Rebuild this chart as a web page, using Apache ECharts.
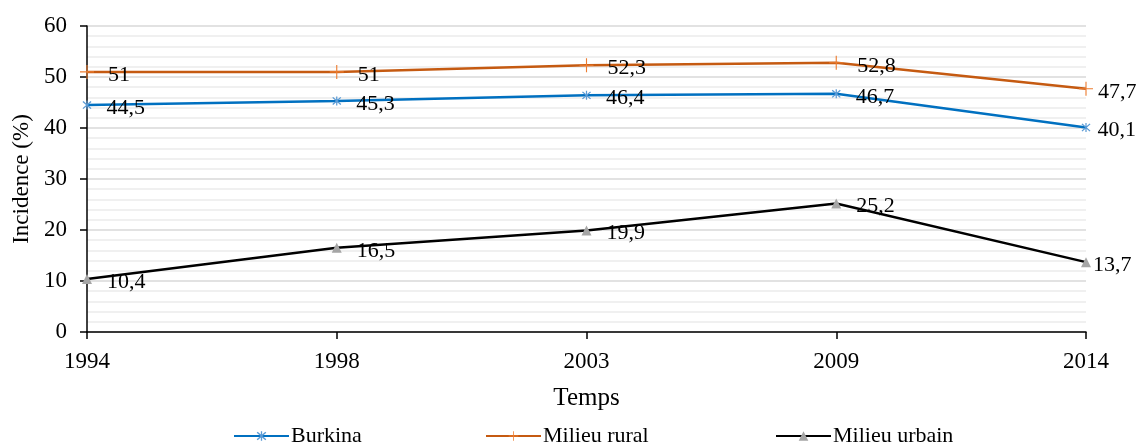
<!DOCTYPE html>
<html>
<head>
<meta charset="utf-8">
<script src="https://cdn.jsdelivr.net/npm/echarts@6/dist/echarts.min.js"></script>
<style>
  html, body { margin: 0; padding: 0; background: #fff; }
  #chart { width: 1138px; height: 446px; }
</style>
</head>
<body>
<div id="chart"></div>
<script>
// données
const years = ['1994', '1998', '2003', '2009', '2014'];
const burkina = [44.5, 45.3, 46.4, 46.7, 40.1];
const rural = [51, 51, 52.3, 52.8, 47.7];
const urbain = [10.4, 16.5, 19.9, 25.2, 13.7];

const FONT = '"Liberation Serif", "DejaVu Serif", serif';

const starPath = 'path://M8.8,0L11.2,0L11.2,20L8.8,20Z M1.2,3L3,1.2L18.8,17L17,18.8Z M17,1.2L18.8,3L3,18.8L1.2,17Z';
const plusPath = 'path://M9.2,0L10.8,0L10.8,9.2L20,9.2L20,10.8L10.8,10.8L10.8,20L9.2,20L9.2,10.8L0,10.8L0,9.2L9.2,9.2Z';

function fmt(p) {
  return String(p.value).replace('.', ',');
}

// le dernier point a son étiquette plus près
function points(arr, lastDist) {
  return arr.map((v, i) => i === arr.length - 1
    ? { value: v, label: { distance: lastDist } }
    : v);
}

function serie(name, arr, lineColor, markColor, symbol, size, dist, lastDist) {
  return {
    name,
    type: 'line',
    data: points(arr, lastDist),
    symbol,
    symbolSize: size,
    showAllSymbol: true,
    animation: false,
    lineStyle: { color: lineColor, width: 2.5 },
    itemStyle: { color: markColor },
    label: {
      show: true,
      position: 'right',
      distance: dist,
      offset: [0, 3],
      formatter: fmt,
      fontFamily: FONT,
      fontSize: 22,
      color: '#000'
    }
  };
}

function leg(name, left) {
  return {
    data: [name],
    left,
    bottom: -6,
    itemWidth: 55,
    itemHeight: 12,
    textStyle: { fontFamily: FONT, fontSize: 22, color: '#000', padding: [0, 0, 0, -3] }
  };
}

const chart = echarts.init(document.getElementById('chart'));
chart.setOption({
  color: ['#0070c0', '#c55a11', '#000000'],
  grid: { left: 87, right: 52, top: 26, bottom: 114 },
  textStyle: { fontFamily: FONT },
  legend: [
    leg('Burkina', 228),
    leg('Milieu rural', 480),
    leg('Milieu urbain', 770)
  ],
  xAxis: {
    type: 'category',
    data: years,
    boundaryGap: false,
    name: 'Temps',
    nameLocation: 'middle',
    nameGap: 54,
    nameTextStyle: { fontFamily: FONT, fontSize: 25, color: '#000' },
    axisLine: { lineStyle: { color: '#000', width: 1.5 } },
    axisTick: { inside: false, length: 7, lineStyle: { color: '#000', width: 1.5 } },
    axisLabel: { margin: 18, fontFamily: FONT, fontSize: 23, color: '#000' },
    splitLine: { show: false }
  },
  yAxis: {
    type: 'value',
    min: 0,
    max: 60,
    interval: 10,
    name: 'Incidence (%)',
    nameLocation: 'middle',
    nameGap: 53,
    nameTextStyle: { fontFamily: FONT, fontSize: 23, color: '#000' },
    axisLine: { show: true, lineStyle: { color: '#000', width: 1.5 } },
    axisTick: { show: true, length: 7, lineStyle: { color: '#000', width: 1.5 } },
    axisLabel: { margin: 20, fontFamily: FONT, fontSize: 23, color: '#000' },
    splitLine: { show: true, lineStyle: { color: '#d9d9d9', width: 1.5 } },
    minorTick: { show: false, splitNumber: 5 },
    minorSplitLine: { show: true, lineStyle: { color: '#ececec', width: 1.5 } }
  },
  series: [
    serie('Burkina', burkina, '#0070c0', '#5b9bd5', starPath, 9, 15, 7),
    serie('Milieu rural', rural, '#c55a11', '#ed7d31', plusPath, 14, 14, 5),
    serie('Milieu urbain', urbain, '#000000', '#a5a5a5', 'triangle', 10, 15, 2)
  ]
});
</script>
</body>
</html>
